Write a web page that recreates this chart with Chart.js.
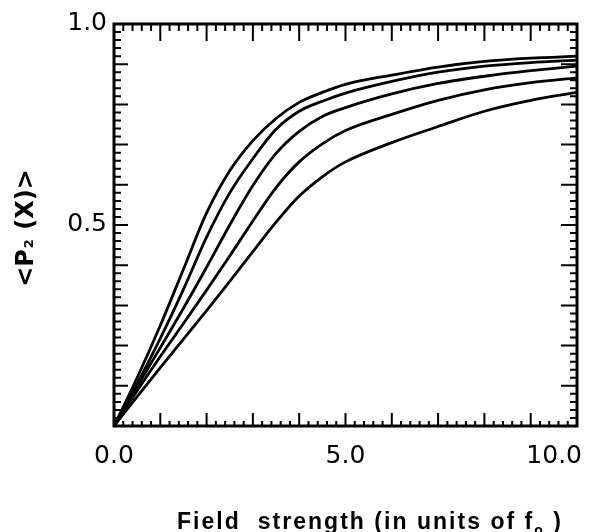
<!DOCTYPE html>
<html>
<head>
<meta charset="utf-8">
<script src="https://cdn.jsdelivr.net/npm/chart.js@4.4.1/dist/chart.umd.min.js"></script>
<style>
  html, body { margin: 0; padding: 0; background: #fff; }
  #wrap { width: 591px; height: 532px; }
</style>
</head>
<body>
<div id="wrap"><canvas id="myChart" width="591" height="532"></canvas></div>
<script>
// field strength samples (units of f0)
var fieldValues = [0, 0.5, 1, 1.5, 2, 2.5, 3, 3.5, 4, 4.5, 5, 6, 7, 8, 9, 10];

// <P2(X)>, top to bottom
var curve1 = [0, 0.12, 0.25, 0.39, 0.53, 0.635, 0.71, 0.765, 0.805, 0.83, 0.85, 0.873, 0.893, 0.907, 0.915, 0.92];
var curve2 = [0, 0.105, 0.218, 0.34, 0.47, 0.58, 0.665, 0.738, 0.783, 0.808, 0.828, 0.857, 0.88, 0.895, 0.904, 0.91];
var curve3 = [0, 0.098, 0.195, 0.293, 0.395, 0.50, 0.598, 0.678, 0.733, 0.77, 0.792, 0.826, 0.852, 0.87, 0.884, 0.895];
var curve4 = [0, 0.088, 0.173, 0.255, 0.338, 0.423, 0.51, 0.593, 0.657, 0.702, 0.735, 0.775, 0.81, 0.836, 0.854, 0.866];
var curve5 = [0, 0.073, 0.145, 0.216, 0.287, 0.36, 0.434, 0.507, 0.572, 0.62, 0.657, 0.705, 0.745, 0.783, 0.81, 0.83];

var xTickValues = [0, 5, 10];
var xTickLabels = ['0.0', '5.0', '10.0'];
var yTickValues = [0.5, 1.0];
var yTickLabels = ['0.5', '1.0'];

var xTitle = 'Field  strength (in units of f';
var yTitle = '<P';

// small tick marks: every 0.2 on x (long every 1), every 0.02 on y (long every 0.1)
var xMinor = [];
for (var i = 0; i <= 50; i++) xMinor.push({ v: i / 5, major: i % 5 == 0 });
var yMinor = [];
for (var j = 0; j <= 50; j++) yMinor.push({ v: j / 50, major: j % 5 == 0 });

function pts(ys) {
    return fieldValues.map(function (x, i) { return { x: x, y: ys[i] }; });
}

var frame = {
    id: 'frame',
    afterDatasetsDraw: function (chart) {
        var ctx = chart.ctx, a = chart.chartArea;
        var sx = chart.scales.x, sy = chart.scales.y;
        ctx.save();
        ctx.strokeStyle = '#000';
        ctx.fillStyle = '#000';

        // inward ticks
        ctx.lineWidth = 2;
        ctx.beginPath();
        xMinor.forEach(function (t) {
            var px = sx.getPixelForValue(t.v);
            ctx.moveTo(px, a.bottom);
            ctx.lineTo(px, a.bottom - (t.major ? 13 : 5));
            ctx.moveTo(px, a.top);
            ctx.lineTo(px, a.top + (t.major ? 17 : 7));
        });
        yMinor.forEach(function (t) {
            var py = sy.getPixelForValue(t.v);
            ctx.moveTo(a.left, py);
            ctx.lineTo(a.left + (t.major ? 14 : 7), py);
            ctx.moveTo(a.right, py);
            ctx.lineTo(a.right - (t.major ? 16 : 7), py);
        });
        ctx.stroke();

        ctx.lineWidth = 3;
        ctx.strokeRect(a.left, a.top, a.right - a.left, a.bottom - a.top);

        // tick labels
        ctx.font = '25px "DejaVu Sans"';
        ctx.textBaseline = 'middle';
        xTickValues.forEach(function (v, i) {
            var px = sx.getPixelForValue(v);
            var last = i == xTickValues.length - 1;
            ctx.textAlign = last ? 'right' : 'center';
            ctx.fillText(xTickLabels[i], last ? px + 5 : px, a.bottom + 30);
        });
        ctx.textAlign = 'right';
        yTickValues.forEach(function (v, i) {
            ctx.fillText(yTickLabels[i], a.left - 7, sy.getPixelForValue(v) - 1);
        });

        // x title with subscript o, stretched to the width of the original
        ctx.textBaseline = 'alphabetic';
        ctx.textAlign = 'left';
        var big = 'bold 23px "Liberation Sans"', small = 'bold 14px "Liberation Sans"';
        ctx.font = big;
        var n = xTitle.length + 3;
        var w1 = ctx.measureText(xTitle).width;
        var w3 = ctx.measureText(' )').width;
        ctx.font = small;
        var w2 = ctx.measureText('o').width;
        var sp = Math.max(0, (386 - (w1 + w2 + w3)) / n);
        ctx.letterSpacing = sp + 'px';
        var x0 = 177;
        ctx.font = big;
        ctx.fillText(xTitle, x0, 529);
        var xe = x0 + w1 + sp * xTitle.length;
        ctx.font = small;
        ctx.fillText('o', xe, 535);
        ctx.font = big;
        ctx.fillText(' )', xe + w2 + sp, 529);
        ctx.letterSpacing = '0px';

        // y title, rotated, with subscript 2
        ctx.save();
        ctx.translate(33, 229);
        ctx.rotate(-Math.PI / 2);
        ctx.font = 'bold 24px "DejaVu Sans"';
        var a1 = ctx.measureText(yTitle).width;
        ctx.font = 'bold 13px "DejaVu Sans"';
        var a2 = ctx.measureText('2').width;
        ctx.font = 'bold 24px "DejaVu Sans"';
        var a3 = ctx.measureText(' (X)>').width;
        var y0 = -(a1 + a2 + a3) / 2;
        ctx.fillText(yTitle, y0, 0);
        ctx.font = 'bold 13px "DejaVu Sans"';
        ctx.fillText('2', y0 + a1 + 1, 0);
        ctx.font = 'bold 24px "DejaVu Sans"';
        ctx.fillText(' (X)>', y0 + a1 + a2 + 2, 0);
        ctx.restore();

        ctx.restore();
    }
};

var lineStyle = {
    borderColor: '#000',
    borderWidth: 2.8,
    pointRadius: 0,
    fill: false,
    cubicInterpolationMode: 'monotone'
};

var ctx = document.getElementById('myChart');
var myChart = new Chart(ctx, {
    type: 'line',
    data: {
        datasets: [
            Object.assign({ label: 'curve 1', data: pts(curve1) }, lineStyle),
            Object.assign({ label: 'curve 2', data: pts(curve2) }, lineStyle),
            Object.assign({ label: 'curve 3', data: pts(curve3) }, lineStyle),
            Object.assign({ label: 'curve 4', data: pts(curve4) }, lineStyle),
            Object.assign({ label: 'curve 5', data: pts(curve5) }, lineStyle)
        ]
    },
    options: {
        responsive: false,
        animation: false,
        layout: { padding: { left: 114, right: 14, top: 24, bottom: 106 } },
        plugins: { legend: { display: false }, tooltip: { enabled: false } },
        scales: {
            x: { type: 'linear', min: 0, max: 10, display: false },
            y: { type: 'linear', min: 0, max: 1, display: false }
        }
    },
    plugins: [frame]
});
</script>
</body>
</html>
